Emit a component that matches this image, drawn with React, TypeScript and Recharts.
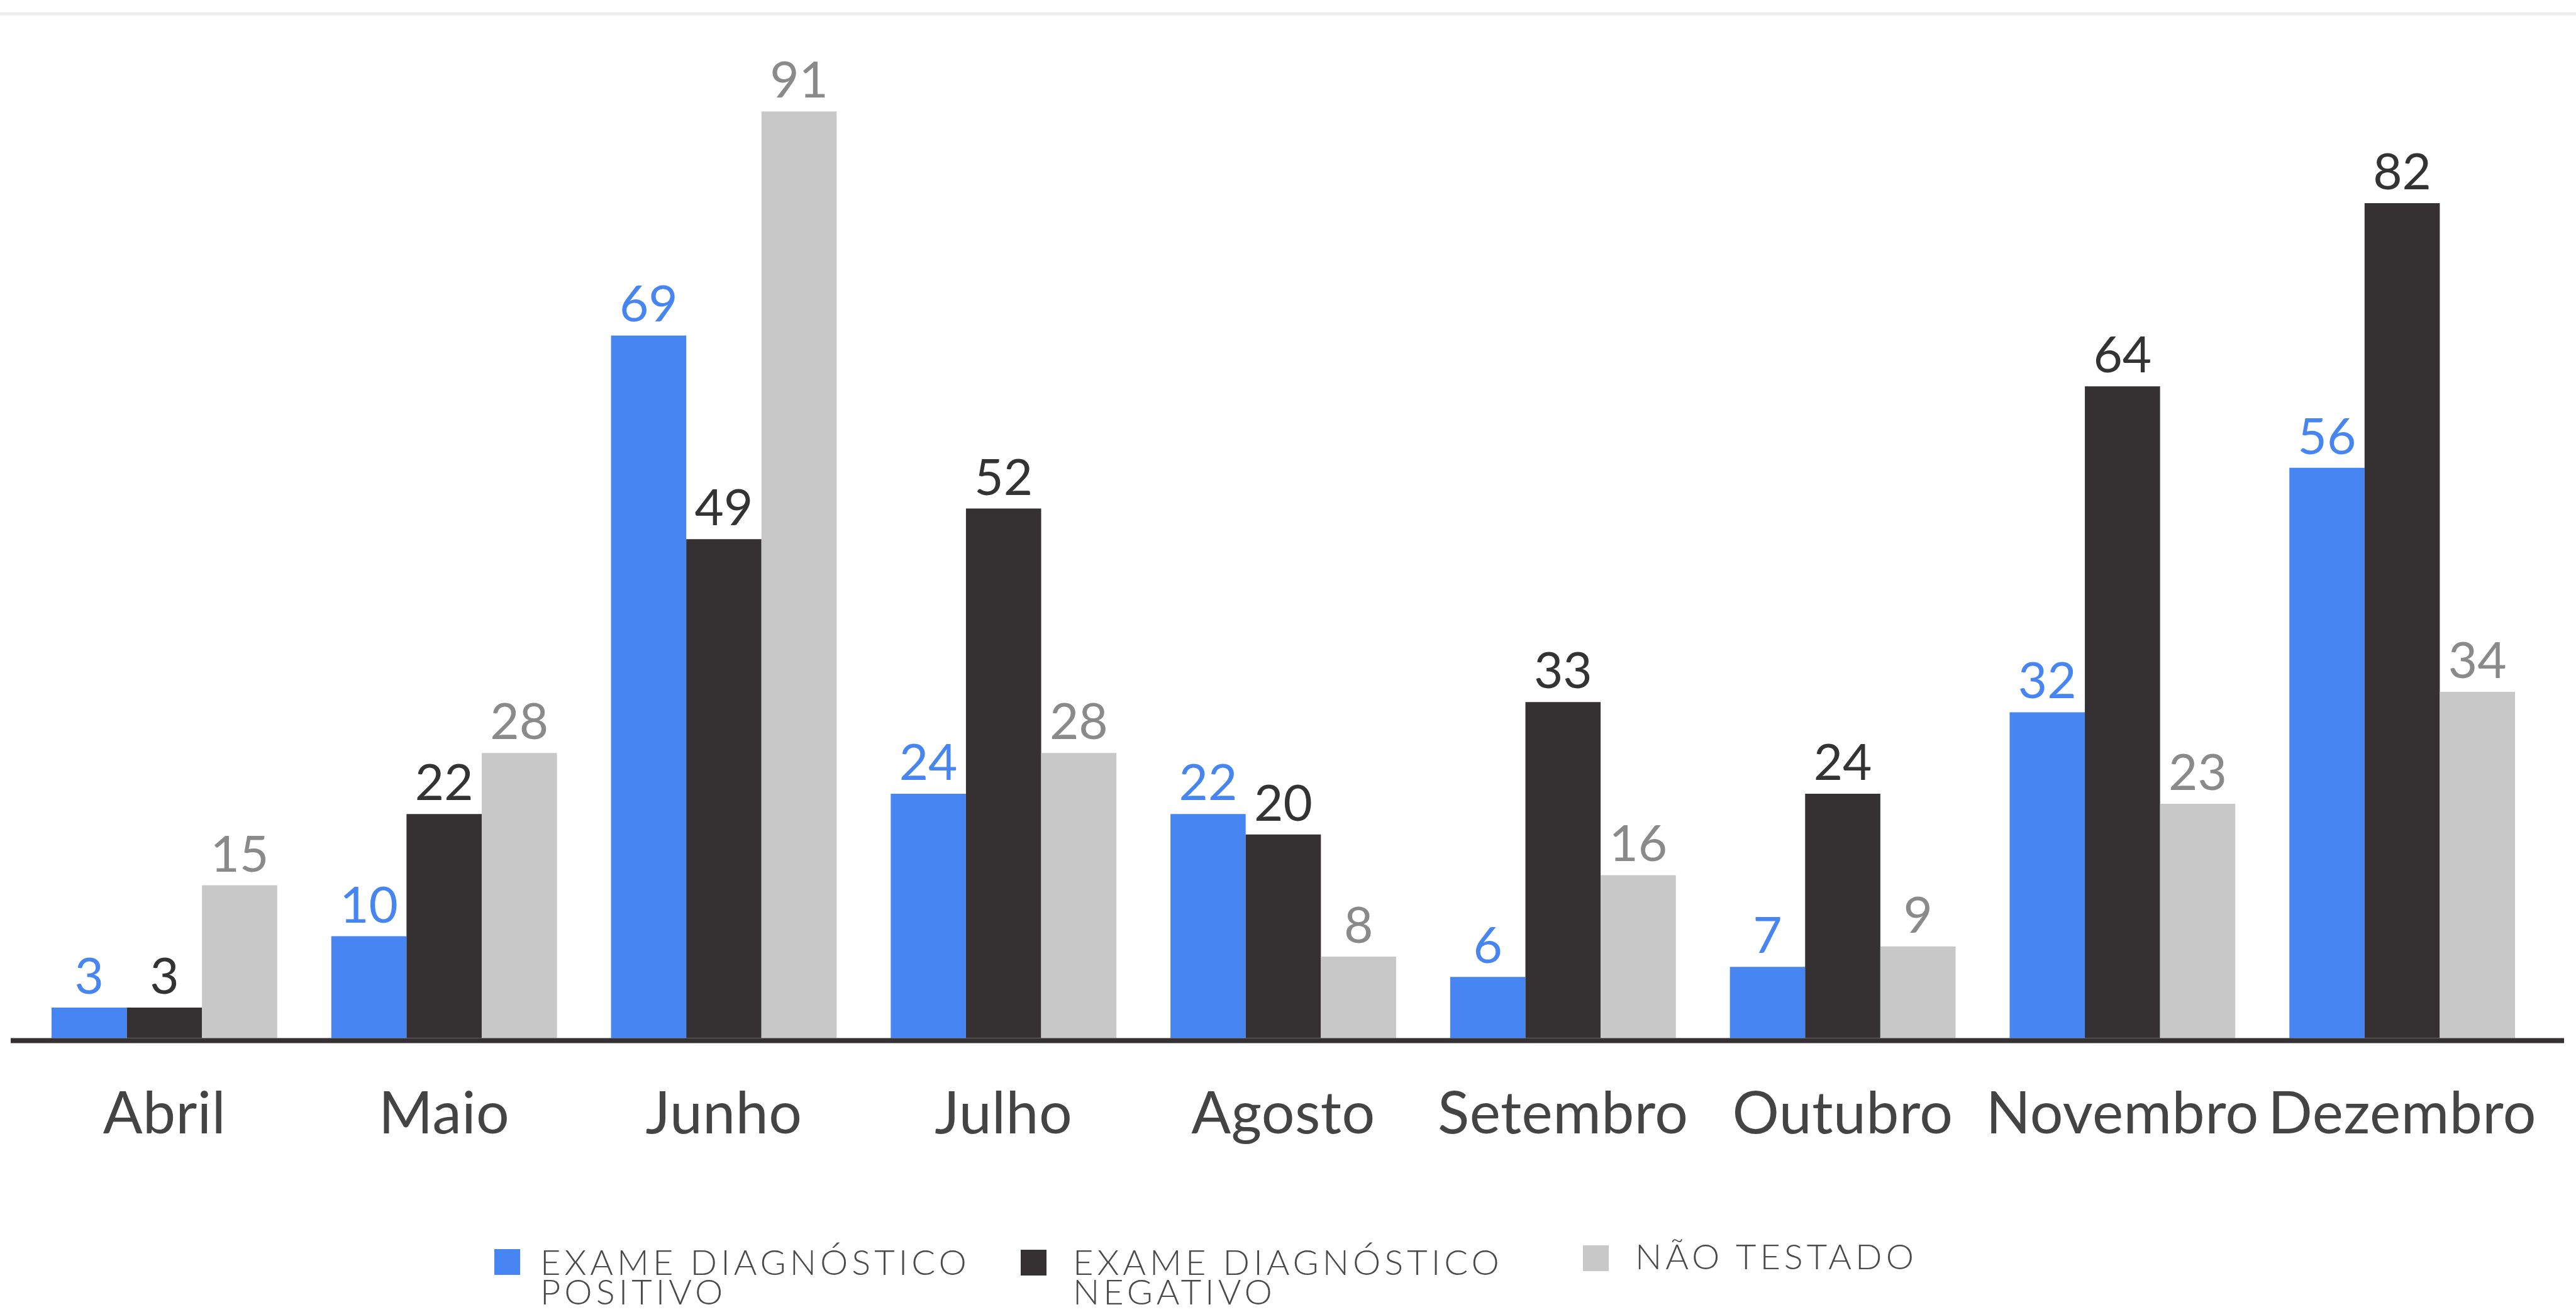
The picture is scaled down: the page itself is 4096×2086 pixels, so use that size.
import React from 'react';
import { BarChart, Bar, XAxis, YAxis, LabelList, Legend } from 'recharts';

const months = ['Abril', 'Maio', 'Junho', 'Julho', 'Agosto', 'Setembro', 'Outubro', 'Novembro', 'Dezembro'];
const positivo = [3, 10, 69, 24, 22, 6, 7, 32, 56];
const negativo = [3, 22, 49, 52, 20, 33, 24, 64, 82];
const naoTestado = [15, 28, 91, 28, 8, 16, 9, 23, 34];

const seriesKeys = ['positivo', 'negativo', 'naoTestado'];
const seriesColors = ['#4786f2', '#353132', '#c8c8c8'];
const labelColors = ['#4786f2', '#333333', '#8a8a8a'];
const legendLines = [
  ['EXAME DIAGNÓSTICO', 'POSITIVO'],
  ['EXAME DIAGNÓSTICO', 'NEGATIVO'],
  ['NÃO TESTADO'],
];

const data = months.map((m, i) => ({
  month: m,
  positivo: positivo[i],
  negativo: negativo[i],
  naoTestado: naoTestado[i],
}));

const W = 4096;
const H = 2086;
const FONT = 'Lato, "Open Sans", sans-serif';

const legendPos = [
  { rx: 786, ry: 1986, tx: 859, ty: 2027 },
  { rx: 1623, ry: 1987, tx: 1706, ty: 2027 },
  { rx: 2517, ry: 1980, tx: 2600, ty: 2018 },
];

const renderLegend = () => (
  <svg width={W} height={H} style={{ overflow: 'visible', display: 'block' }}>
    {legendLines.map((lines, i) => (
      <g key={i}>
        <rect x={legendPos[i].rx} y={legendPos[i].ry} width={41} height={41} fill={seriesColors[i]} />
        {lines.map((ln, j) => (
          <text
            key={j}
            x={legendPos[i].tx}
            y={legendPos[i].ty + j * 47}
            fontSize={56}
            fontWeight={300}
            fontFamily={FONT}
            fill="#4a4a4a"
            letterSpacing={6}
          >
            {ln}
          </text>
        ))}
      </g>
    ))}
  </svg>
);

const MonthTick = (props: any) => {
  const { x, y, payload } = props;
  return (
    <text
      x={x}
      y={y + 147.8}
      textAnchor="middle"
      fontSize={93}
      letterSpacing={0.5}
      fontFamily={FONT}
      fill="#444444"
    >
      {payload.value}
    </text>
  );
};

export default function App() {
  return (
    <div style={{ position: 'absolute', left: 0, top: 0, width: W, height: H, background: '#ffffff', overflow: 'hidden' }}>
      <div
        style={{
          position: 'absolute',
          left: 0,
          top: 20,
          width: W,
          height: 4,
          background: '#ececec',
          boxShadow: '0 0 3px #ececec',
        }}
      />
      <BarChart
        width={W}
        height={H}
        data={data}
        margin={{ top: 31.5, right: 19, left: 17, bottom: 281.5 }}
        barGap={0}
        barSize={119.6}
      >
        <XAxis
          dataKey="month"
          interval={0}
          height={150}
          tickLine={false}
          tickSize={0}
          tickMargin={0}
          padding={{ left: 22, right: 35 }}
          axisLine={{ stroke: '#353132', strokeWidth: 8 }}
          tick={<MonthTick />}
        />
        <YAxis hide type="number" domain={[-0.25, 100]} allowDataOverflow />
        <Legend
          layout="horizontal"
          verticalAlign="middle"
          align="center"
          content={renderLegend}
          wrapperStyle={{ position: 'absolute', left: 0, top: 0, width: W, height: H, pointerEvents: 'none' }}
        />
        {seriesKeys.map((k, i) => (
          <Bar key={k} dataKey={k} fill={seriesColors[i]} isAnimationActive={false}>
            <LabelList
              dataKey={k}
              position="top"
              offset={22}
              fill={labelColors[i]}
              fontSize={80}
              fontFamily={FONT}
            />
          </Bar>
        ))}
      </BarChart>
    </div>
  );
}
